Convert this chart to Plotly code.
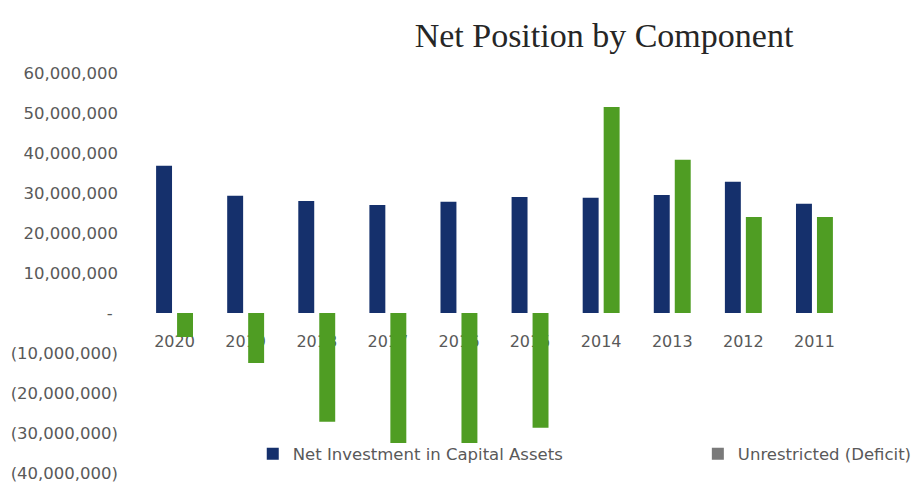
import plotly.graph_objects as go

# Fiscal years, newest first
years = ["2020", "2019", "2018", "2017", "2016", "2015", "2014", "2013", "2012", "2011"]

# Net position components (dollars)
net_investment = [36800000, 29300000, 28000000, 27000000, 27800000, 29000000,
                  28800000, 29500000, 32800000, 27300000]
unrestricted = [-6000000, -12500000, -27200000, -32500000, -32500000, -28700000,
                51500000, 38300000, 24000000, 24000000]

# Y axis ticks in accounting style
y_tickvals = [60000000, 50000000, 40000000, 30000000, 20000000, 10000000, 0,
              -10000000, -20000000, -30000000, -40000000]
y_ticktext = ["60,000,000", "50,000,000", "40,000,000", "30,000,000", "20,000,000",
              "10,000,000", "-\u00a0", "(10,000,000)", "(20,000,000)",
              "(30,000,000)", "(40,000,000)"]

NAVY = "#15306c"
GREEN = "#4f9d23"
KEY_GRAY = "#7a7a7a"
GRAY = "#595959"
LEGEND_FONT = dict(family="DejaVu Sans", size=16.5, color=GRAY)

y_min, y_max = -40000000, 60000000
zero_frac = (0 - y_min) / (y_max - y_min)

fig = go.Figure()
fig.add_trace(go.Bar(x=years, y=net_investment, name="Net Investment in Capital Assets",
                     offsetgroup="a", legend="legend",
                     marker=dict(color=NAVY, line=dict(width=0))))
fig.add_trace(go.Bar(x=years, y=unrestricted, name="Unrestricted (Deficit)",
                     offsetgroup="b", showlegend=False,
                     marker=dict(color=GREEN, line=dict(width=0))))
# legend key for the unrestricted series (grey swatch)
fig.add_trace(go.Bar(x=[None], y=[None], name="Unrestricted (Deficit)",
                     offsetgroup="b", legend="legend2", hoverinfo="skip",
                     marker=dict(color=KEY_GRAY, line=dict(width=0))))

fig.update_layout(
    width=919, height=483,
    margin=dict(l=139, r=69, t=73, b=10, autoexpand=False),
    paper_bgcolor="white", plot_bgcolor="white",
    barmode="group", bargap=0.41, bargroupgap=0.24,
    title=dict(text="Net Position by Component", x=604 / 919, xanchor="center",
               xref="container", y=1 - 35 / 483, yanchor="middle", yref="container",
               font=dict(family="Liberation Serif", size=34, color="#262626")),
    xaxis=dict(type="category", anchor="free", position=zero_frac, layer="below traces",
               showline=False, showgrid=False, zeroline=False, ticks="",
               ticklabelstandoff=17,
               tickfont=dict(family="DejaVu Sans", size=16, color=GRAY)),
    yaxis=dict(range=[y_min, y_max], tickvals=y_tickvals, ticktext=y_ticktext,
               showline=False, showgrid=False, zeroline=False, ticks="",
               ticklabelstandoff=20,
               tickfont=dict(family="DejaVu Sans", size=16.5, color=GRAY)),
    legend=dict(orientation="h", x=0.160, xanchor="left", y=0.0475, yanchor="middle",
                bgcolor="rgba(0,0,0,0)", font=LEGEND_FONT),
    legend2=dict(orientation="h", x=0.786, xanchor="left", y=0.0475, yanchor="middle",
                 bgcolor="rgba(0,0,0,0)", font=LEGEND_FONT),
)

fig.write_html("out.html")
